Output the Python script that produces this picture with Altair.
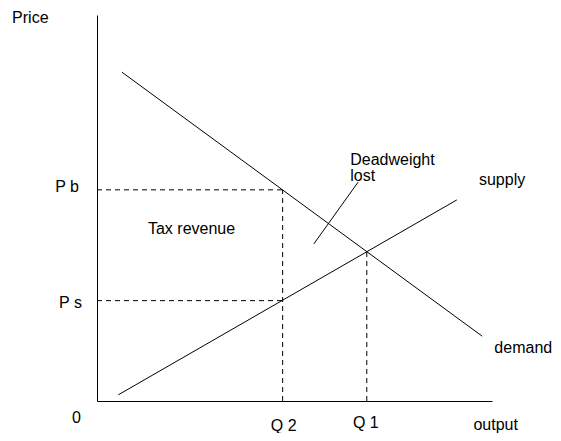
import altair as alt
import pandas as pd

# Curves (axis units 0-100)
demand_x = [6.3, 97.5]
demand_y = [85.2, 16.8]
supply_x = [5.4, 91.1]
supply_y = [1.6, 52.1]
pointer_x = [54.9, 66.1]
pointer_y = [40.7, 56.7]

# Key levels
q2 = 47.0
q1 = 68.3
pb = 54.7
ps = 26.0
p_eq = 38.7

# Labels
label_text = ["Price", "P b", "P s", "0", "Q 2", "Q 1", "output",
              "Tax revenue", "Deadweight", "lost", "supply", "demand"]
label_x = [-21.5, -10.6, -9.6, -6.3, 44.0, 64.8, 95.3,
           12.9, 64.1, 64.1, 96.7, 100.6]
label_y = [97.9, 54.1, 24.0, -5.7, -7.9, -7.0, -7.4,
           43.3, 61.1, 57.0, 56.0, 12.4]

solid = pd.DataFrame({
    "x": [demand_x[0], supply_x[0], pointer_x[0]],
    "y": [demand_y[0], supply_y[0], pointer_y[0]],
    "x2": [demand_x[1], supply_x[1], pointer_x[1]],
    "y2": [demand_y[1], supply_y[1], pointer_y[1]],
})
dashed = pd.DataFrame({
    "x": [0, 0, q2, q1],
    "y": [pb, ps, 0, 0],
    "x2": [q2, q2, q2, q1],
    "y2": [pb, ps, pb, p_eq],
})
labels = pd.DataFrame({"t": label_text, "x": label_x, "y": label_y})

xs = alt.Scale(domain=[0, 100], nice=False, zero=False)
ys = alt.Scale(domain=[0, 100], nice=False, zero=False)
xax = alt.Axis(domain=True, ticks=False, labels=False, grid=False, title=None,
               domainColor="black", domainWidth=1)
yax = alt.Axis(domain=True, ticks=False, labels=False, grid=False, title=None,
               domainColor="black", domainWidth=1)

base_solid = alt.Chart(solid).mark_rule(color="black", strokeWidth=1).encode(
    x=alt.X("x:Q", scale=xs, axis=xax),
    y=alt.Y("y:Q", scale=ys, axis=yax),
    x2="x2:Q",
    y2="y2:Q",
)
base_dashed = alt.Chart(dashed).mark_rule(color="black", strokeWidth=1, strokeDash=[5, 4]).encode(
    x=alt.X("x:Q", scale=xs),
    y=alt.Y("y:Q", scale=ys),
    x2="x2:Q",
    y2="y2:Q",
)
text = alt.Chart(labels).mark_text(
    align="left", baseline="alphabetic", font="Liberation Sans", fontSize=16, color="black"
).encode(
    x=alt.X("x:Q", scale=xs),
    y=alt.Y("y:Q", scale=ys),
    text="t:N",
)

chart = alt.layer(base_dashed, base_solid, text).properties(
    width=395,
    height=386,
    autosize=alt.AutoSizeParams(type="none"),
    padding={"left": 89, "top": 7, "right": 61, "bottom": 32},
    background="white",
).configure_view(stroke=None)

chart.save("out.html", embed_options={"renderer": "svg", "actions": False})
